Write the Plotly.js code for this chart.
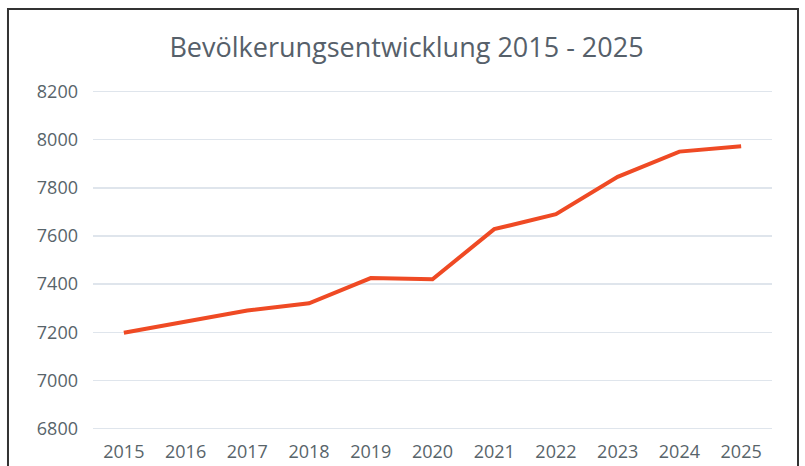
<!DOCTYPE html>
<html><head><meta charset="utf-8">
<script src="https://cdn.plot.ly/plotly-3.0.1.min.js"></script>
<style>html,body{margin:0;padding:0;background:#fff;}#chart{width:805px;height:466px;}</style>
</head><body><div id="chart"></div>
<script>
const years = ['2015','2016','2017','2018','2019','2020','2021','2022','2023','2024','2025'];
const population = [7198, 7245, 7290, 7320, 7425, 7420, 7628, 7690, 7845, 7950, 7972];
const yTicks = [6800, 7000, 7200, 7400, 7600, 7800, 8000, 8200];
const chartTitle = 'Bevölkerungsentwicklung 2015 - 2025';

const font = 'Open Sans, sans-serif';
Plotly.newPlot('chart', [{
  x: years, y: population, type: 'scatter', mode: 'lines',
  line: {color: '#ef4a24', width: 4}, hoverinfo: 'x+y'
}], {
  width: 805, height: 466,
  margin: {l: 93, r: 33, t: 89, b: 35},
  paper_bgcolor: '#fff', plot_bgcolor: '#fff',
  title: {text: chartTitle, x: 0.505, xref: 'container', xanchor: 'center', y: 0.899, yref: 'container', yanchor: 'middle',
          font: {family: font, size: 27, color: '#56606a'}},
  xaxis: {type: 'category', range: [-0.5, 10.5], showgrid: false, zeroline: false, showline: false,
          tickfont: {family: font, size: 18, color: '#58646a'}, ticks: '', ticklabelstandoff: 8},
  yaxis: {range: [6790, 8210], tickvals: yTicks, ticktext: yTicks.map(String), showgrid: true,
          gridcolor: '#dfe5ec', gridwidth: 1.5, zeroline: false, showline: false,
          tickfont: {family: font, size: 18, color: '#58646a'}, ticks: '', ticklabelstandoff: 14},
  shapes: [{type: 'rect', xref: 'paper', yref: 'paper', x0: -0.1252, x1: 1.0383, y0: -0.12, y1: 1.2339,
            line: {color: '#333', width: 2}, fillcolor: 'rgba(0,0,0,0)', layer: 'above'}],
  showlegend: false
}, {displayModeBar: false, staticPlot: true});
</script></body></html>
